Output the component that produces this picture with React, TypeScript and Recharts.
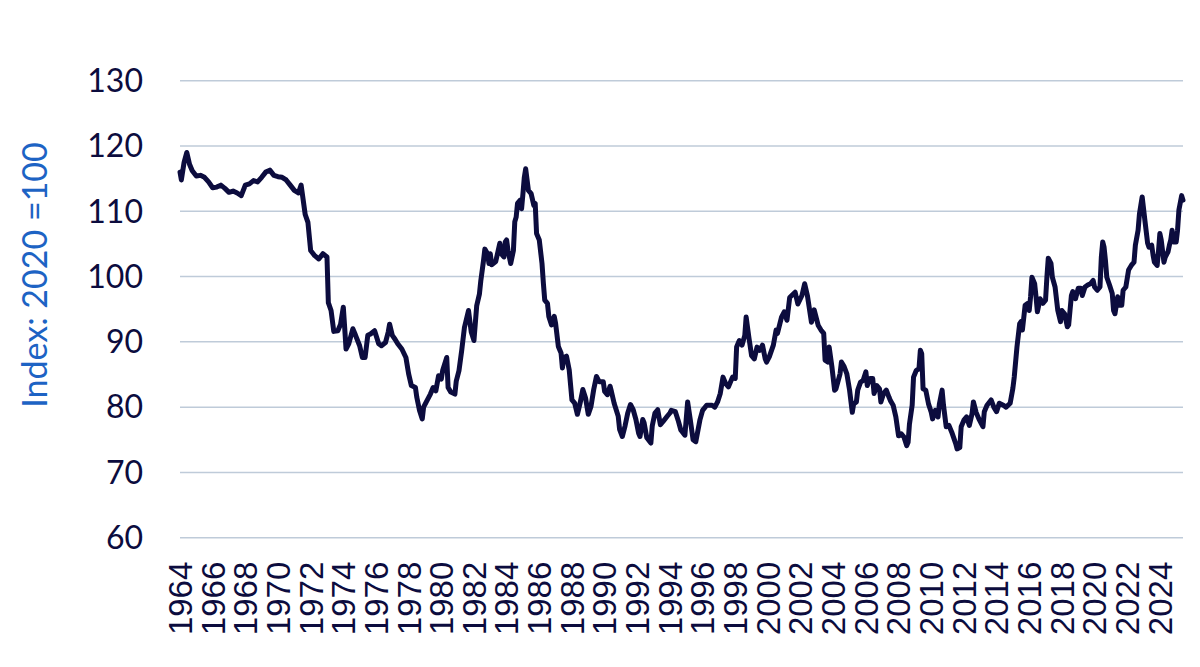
import React from 'react';
import { LineChart, Line, XAxis, YAxis, CartesianGrid } from 'recharts';

// Monthly readings (YYYY-MM) and index values, 2020 = 100
const dates: string[] = [
    '1964-01', '1964-02', '1964-04', '1964-06', '1964-08', '1964-10',
    '1965-01', '1965-04', '1965-07', '1965-10',
    '1966-01', '1966-04', '1966-07', '1966-10',
    '1967-01', '1967-04', '1967-07', '1967-10',
    '1968-01', '1968-04', '1968-07', '1968-10',
    '1969-01', '1969-04', '1969-07', '1969-10',
    '1970-01', '1970-04', '1970-07', '1970-10',
    '1971-01', '1971-04', '1971-06', '1971-07', '1971-09', '1971-11',
    '1972-01', '1972-04', '1972-07', '1972-10',
    '1973-01', '1973-02', '1973-04', '1973-06', '1973-09', '1973-11',
    '1974-01', '1974-02', '1974-03', '1974-05', '1974-08', '1974-10',
    '1975-01', '1975-03', '1975-05', '1975-07', '1975-09', '1975-12',
    '1976-03', '1976-05', '1976-08', '1976-10', '1976-11',
    '1977-01', '1977-03', '1977-05', '1977-08', '1977-11',
    '1978-01', '1978-03', '1978-06', '1978-07', '1978-09', '1978-11', '1978-12',
    '1979-02', '1979-05', '1979-07', '1979-09', '1979-11',
    '1980-01', '1980-02', '1980-05', '1980-06', '1980-08', '1980-11', '1980-12',
    '1981-02', '1981-04', '1981-06', '1981-09', '1981-11',
    '1982-01', '1982-03', '1982-05', '1982-06', '1982-08', '1982-09', '1982-11', '1982-12',
    '1983-01', '1983-02', '1983-05', '1983-08', '1983-09', '1983-11', '1983-12',
    '1984-01', '1984-02', '1984-04', '1984-06', '1984-07', '1984-08', '1984-09', '1984-11', '1984-12',
    '1985-01', '1985-02', '1985-03', '1985-05', '1985-07', '1985-09', '1985-10', '1985-11',
    '1986-01', '1986-03', '1986-04', '1986-05', '1986-07', '1986-08', '1986-10', '1986-12',
    '1987-01', '1987-03', '1987-05', '1987-06', '1987-07', '1987-09', '1987-11',
    '1988-01', '1988-03', '1988-05', '1988-07', '1988-09', '1988-11',
    '1989-01', '1989-03', '1989-05', '1989-07', '1989-09', '1989-12',
    '1990-01', '1990-03', '1990-05', '1990-06', '1990-08', '1990-11', '1990-12',
    '1991-02', '1991-04', '1991-06', '1991-08', '1991-10', '1991-12',
    '1992-02', '1992-03', '1992-05', '1992-06', '1992-08', '1992-11', '1992-12',
    '1993-02', '1993-04', '1993-06', '1993-08', '1993-11',
    '1994-01', '1994-02', '1994-05', '1994-07', '1994-09', '1994-12',
    '1995-02', '1995-04', '1995-06', '1995-08', '1995-11',
    '1996-01', '1996-04', '1996-08', '1996-10', '1996-12',
    '1997-02', '1997-04', '1997-06', '1997-08', '1997-11',
    '1998-01', '1998-02', '1998-04', '1998-06', '1998-08', '1998-09', '1998-11',
    '1999-01', '1999-03', '1999-05', '1999-07', '1999-09', '1999-11', '1999-12',
    '2000-02', '2000-05', '2000-07', '2000-08', '2000-11',
    '2001-01', '2001-03', '2001-05', '2001-08', '2001-09', '2001-11',
    '2002-02', '2002-04', '2002-06', '2002-09', '2002-11',
    '2003-02', '2003-04', '2003-06', '2003-07', '2003-09', '2003-10', '2003-12',
    '2004-02', '2004-03', '2004-06', '2004-07', '2004-09', '2004-11',
    '2005-01', '2005-03', '2005-04', '2005-06', '2005-07', '2005-09', '2005-11',
    '2006-01', '2006-02', '2006-04', '2006-06', '2006-07', '2006-09', '2006-11', '2006-12',
    '2007-02', '2007-04', '2007-06', '2007-07', '2007-09', '2007-11',
    '2008-01', '2008-03', '2008-05', '2008-07', '2008-08', '2008-09', '2008-11', '2008-12',
    '2009-02', '2009-04', '2009-05', '2009-06', '2009-07', '2009-09', '2009-11',
    '2010-01', '2010-02', '2010-04', '2010-06', '2010-07', '2010-09', '2010-10', '2010-12',
    '2011-02', '2011-04', '2011-07', '2011-08', '2011-10', '2011-11',
    '2012-01', '2012-03', '2012-05', '2012-07', '2012-08', '2012-10', '2012-12',
    '2013-02', '2013-03', '2013-04', '2013-06', '2013-09', '2013-11',
    '2014-01', '2014-03', '2014-06', '2014-08', '2014-11',
    '2015-01', '2015-02', '2015-04', '2015-06', '2015-07', '2015-08', '2015-10', '2015-12',
    '2016-01', '2016-02', '2016-03', '2016-05', '2016-06', '2016-07', '2016-09', '2016-11',
    '2017-01', '2017-02', '2017-03', '2017-05', '2017-06', '2017-08', '2017-10', '2017-12',
    '2018-01', '2018-03', '2018-05', '2018-06', '2018-08', '2018-09', '2018-11',
    '2019-01', '2019-03', '2019-04', '2019-06', '2019-08', '2019-10', '2019-12',
    '2020-01', '2020-03', '2020-05', '2020-06', '2020-07', '2020-08', '2020-09', '2020-10', '2020-12',
    '2021-02', '2021-03', '2021-04', '2021-06', '2021-07', '2021-09', '2021-10', '2021-12',
    '2022-02', '2022-04', '2022-06', '2022-07', '2022-09', '2022-10', '2022-11', '2022-12',
    '2023-02', '2023-04', '2023-05', '2023-07', '2023-08', '2023-09', '2023-11', '2023-12',
    '2024-01', '2024-02', '2024-04', '2024-05', '2024-07', '2024-08', '2024-09', '2024-10', '2024-11',
    '2025-01', '2025-02', '2025-03', '2025-05', '2025-06',
];

const indexValues: number[] = [
    116, 114.8, 117.5, 119, 117.2, 116.2,
    115.4, 115.5, 115.2, 114.5,
    113.6, 113.7, 114.0, 113.5,
    112.9, 113.1, 112.8, 112.4,
    114.0, 114.2, 114.7, 114.5,
    115.2, 116.0, 116.3, 115.5,
    115.3, 115.2, 114.8, 114.0,
    113.2, 112.8, 114, 112.5, 109.5, 108.3,
    104, 103.2, 102.7, 103.5,
    103, 96, 94.8, 91.6, 91.7, 92.7,
    95.3, 92.2, 88.9, 89.7, 92, 91,
    89.4, 87.6, 87.6, 91, 91.2, 91.7,
    89.7, 89.4, 89.9, 91.5, 92.7,
    91, 90.4, 89.7, 88.9, 87.6,
    85.1, 83.3, 83, 81.5, 79.5, 78.2, 80,
    80.8, 82, 83, 82.5, 84.8,
    84.3, 85.6, 87.6, 83, 82.3, 82, 84,
    85.6, 88.7, 92.2, 94.8, 91.5,
    90.2, 95.5, 97.3, 99.3, 102.4, 104.2, 103.5, 102,
    103.5, 101.8, 102.3, 105.1, 103.5, 103, 105.3,
    105.6, 104, 102, 104, 108.4, 109.1, 111.2, 111.7, 110.4,
    112.7, 115.2, 116.5, 113.2, 112.7, 110.9, 111.2, 106.6,
    105.6, 102, 99, 96.4, 95.9, 93.9, 92.6, 93.9,
    92.8, 89.3, 88.3, 86, 87.6, 87.8, 85.7,
    81.1, 80.6, 78.9, 80.6, 82.7, 81.4,
    78.9, 80.1, 82.7, 84.7, 83.9, 83.9,
    82.4, 81.9, 83.2, 82.4, 80.6, 78.6, 76.6,
    75.5, 77.1, 79.1, 80.4, 79.6, 78.1,
    76, 75.5, 78.1, 77.6, 75.3, 74.5, 77.1,
    79.1, 79.6, 77.3, 77.8, 78.6,
    79.1, 79.5, 79.3, 78, 76.5, 75.7,
    80.8, 78, 75, 74.7, 78,
    79.5, 80.3, 80.3, 80, 80.8,
    82.1, 84.6, 83.6, 83.1, 84.6,
    84.4, 89.2, 90.2, 89.5, 91, 93.8, 90.7,
    87.9, 87.4, 89.2, 88.7, 89.5, 87.4, 86.9,
    87.7, 89.5, 91.8, 91.3, 93.8,
    94.6, 93.3, 96.8, 97.4, 97.6, 95.8,
    97.1, 98.9, 97.1, 93, 94.9,
    92.5, 91.8, 91.3, 87.2, 86.9, 89.2, 86.2,
    82.6, 82.8, 85.1, 86.9, 86.2, 85.1,
    82.6, 79.2, 80.5, 80.8, 82.6, 83.8, 84.1,
    85.4, 83.3, 84.4, 84.4, 82.1, 83.3, 82.8, 80.8,
    82.1, 82.6, 81.5, 81, 80.3, 78.5,
    75.6, 75.9, 75.4, 74.1, 74.6, 77.4, 80.3, 84.6,
    85.6, 85.9, 88.7, 88.2, 82.8, 82.6, 80.5,
    79.2, 78.2, 79.5, 78.5, 80.5, 82.6, 80.3, 77,
    77.2, 76.2, 74.4, 73.6, 73.8, 77,
    78, 78.5, 77.2, 79, 80.8, 79.2, 78.2,
    77.4, 77, 79.3, 80.3, 81.1, 80,
    79.3, 80.6, 80.3, 80, 80.6,
    82.9, 84.6, 89.2, 92.8, 93.1, 91.8, 95.6, 95.9,
    94.8, 96.9, 99.9, 98.9, 96.9, 94.6, 96.6, 95.9,
    96.4, 99.9, 102.8, 102, 99.9, 98.4, 94.8, 93.1,
    94.8, 94.3, 92.3, 92.6, 97.1, 97.7, 96.6,
    98.2, 98.2, 97.1, 98.4, 98.7, 98.9, 99.4,
    98.4, 97.9, 98.4, 103, 105.3, 104.5, 102.5, 99.9, 98.7,
    97.4, 94.8, 94.3, 96.9, 95.6, 95.6, 97.9, 98.4,
    101, 101.7, 102.2, 104.8, 107.1, 109.6, 110.9, 112.2,
    108.6, 105.1, 104.5, 104.8, 103.3, 102.2, 101.7, 103.9,
    106.6, 105.6, 102.2, 103, 103.8, 104.8, 105.6, 107.1, 105.3,
    105.3, 107.1, 110.2, 112.4, 111.7,
];

const yearTicks: number[] = [
    1964, 1966, 1968, 1970, 1972, 1974, 1976, 1978, 1980, 1982, 1984,
    1986, 1988, 1990, 1992, 1994, 1996, 1998, 2000, 2002, 2004, 2006,
    2008, 2010, 2012, 2014, 2016, 2018, 2020, 2022, 2024,
];

const valueTicks: number[] = [60, 70, 80, 90, 100, 110, 120, 130];

const axisTitle = 'Index: 2020 =100';

const navy = '#0c0c3e';

// decimal year from "YYYY-MM"
const toYear = (d: string) => {
    const [y, m] = d.split('-').map(Number);
    return y + (m - 1) / 12;
};

const chartData = dates.map((d, i) => ({ t: toYear(d), value: indexValues[i] }));

const YearTick = (props: any) => {
    const { x, y, payload } = props;
    return (
        <text
            x={x}
            y={y}
            dx={-24}
            dy="0.36em"
            transform={`rotate(-90, ${x}, ${y})`}
            textAnchor="end"
            fill={navy}
            fontSize={33}
            fontFamily="'Liberation Sans', Arial, sans-serif"
        >
            {payload.value}
        </text>
    );
};

const AxisTitle = () => (
    <text
        x={25}
        y={267}
        transform="rotate(-90, 25, 267)"
        textAnchor="middle"
        dominantBaseline="central"
        fill="#1d63c4"
        fontSize={34}
        fontFamily="Lato, 'Open Sans', sans-serif"
    >
        {axisTitle}
    </text>
);

const App: React.FC = () => {
    return (
        <div style={{ width: '1192px', height: '651px', backgroundColor: 'white' }}>
            <LineChart
                width={1192}
                height={651}
                data={chartData}
                margin={{ top: 72.7, right: 17, bottom: 0, left: 0 }}
            >
                <CartesianGrid vertical={false} stroke="#bfcbd9" strokeWidth={1.5} />
                <XAxis
                    dataKey="t"
                    type="number"
                    domain={['dataMin', 'dataMax']}
                    ticks={yearTicks}
                    interval={0}
                    axisLine={false}
                    tickLine={false}
                    tickSize={0}
                    tickMargin={0}
                    height={121.3}
                    tick={<YearTick />}
                />
                <YAxis
                    domain={[60, 130]}
                    ticks={valueTicks}
                    axisLine={false}
                    tickLine={false}
                    tickSize={0}
                    tickMargin={37}
                    width={172}
                    tick={{ fill: navy, fontSize: 32, fontFamily: 'Lato, sans-serif' }}
                    label={<AxisTitle />}
                />
                <Line
                    type="linear"
                    dataKey="value"
                    stroke={navy}
                    strokeWidth={5}
                    strokeLinejoin="round"
                    strokeLinecap="round"
                    dot={false}
                    isAnimationActive={false}
                />
            </LineChart>
        </div>
    );
};

export default App;
